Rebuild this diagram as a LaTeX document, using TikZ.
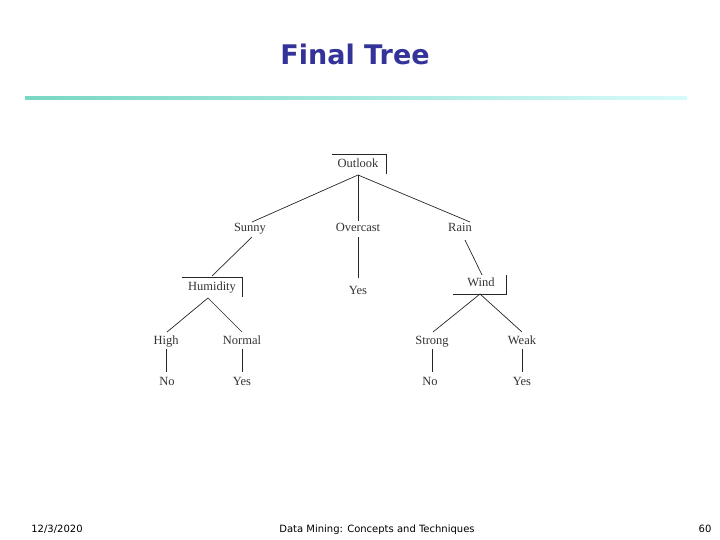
\documentclass[tikz,border=0pt]{standalone}
\usepackage{fontspec}
\setmainfont{Liberation Serif}
\newfontfamily\titlefont{DejaVu Sans}
\begin{document}
\begin{tikzpicture}[x=1pt,y=-1pt,
  lbl/.style={inner sep=0pt,text height=8.5pt,text depth=2.5pt,font=\fontsize{12.5}{12}\selectfont,text=black!80},
  ln/.style={draw=black!85,line width=0.7pt},
  foot/.style={inner sep=0pt,text height=8pt,text depth=2pt,font=\titlefont\fontsize{10}{11}\selectfont}]
\useasboundingbox (0,0) rectangle (720,540);
\node[inner sep=0pt,font=\titlefont\bfseries\fontsize{27}{28}\selectfont,text={rgb,255:red,51;green,51;blue,153}] (title) at (355,54) {Final Tree};
\shade[left color={rgb,255:red,120;green,215;blue,195},right color={rgb,255:red,215;green,250;blue,250}] (25,96.5) rectangle (687,99.5);
% nodes
\node[lbl] (outlook) at (358,165) {Outlook};
\node[lbl] (sunny) at (250,229) {Sunny};
\node[lbl] (over) at (358,229) {Overcast};
\node[lbl] (rain) at (460,229) {Rain};
\node[lbl] (yes0) at (358,291) {Yes};
\node[lbl] (hum) at (212,287) {Humidity};
\node[lbl] (wind) at (481,283) {Wind};
\node[lbl] (high) at (166,341) {High};
\node[lbl] (normal) at (242,341) {Normal};
\node[lbl] (strong) at (432,341) {Strong};
\node[lbl] (weak) at (522,341) {Weak};
\node[lbl] (no1) at (167,382) {No};
\node[lbl] (yes1) at (242,382) {Yes};
\node[lbl] (no2) at (430,382) {No};
\node[lbl] (yes2) at (522,382) {Yes};
% brackets
\coordinate (ob) at (358,175);
\draw[ln] (332,154) -- (386,154) -- (386,174);
\draw[ln] (182,277) -- (242,277) -- (242,297);
\draw[ln] (453,294) -- (506,294) -- (506,275);
\coordinate (hb) at (208,298);
\coordinate (wb) at (480,294);
% edges
\draw[ln] (ob) -- (252,222);
\draw[ln] (ob) -- (358,221);
\draw[ln] (ob) -- (470,222);
\draw[ln] (358,237) -- (358,278);
\draw[ln] (252,237) -- (212,276);
\draw[ln] (465,240) -- (482,275);
\draw[ln] (hb) -- (167,332);
\draw[ln] (hb) -- (242,332);
\draw[ln] (wb) -- (433,332);
\draw[ln] (wb) -- (522,332);
\draw[ln] (166,349) -- (166,372);
\draw[ln] (242,349) -- (242,372);
\draw[ln] (432,349) -- (432,372);
\draw[ln] (522,349) -- (522,372);
% footer
\node[foot] (date) at (57,529) {12/3/2020};
\node[foot] (mid) at (377,529) {Data Mining: Concepts and Techniques};
\node[foot] (pg) at (705,529) {60};
\end{tikzpicture}
\end{document}
